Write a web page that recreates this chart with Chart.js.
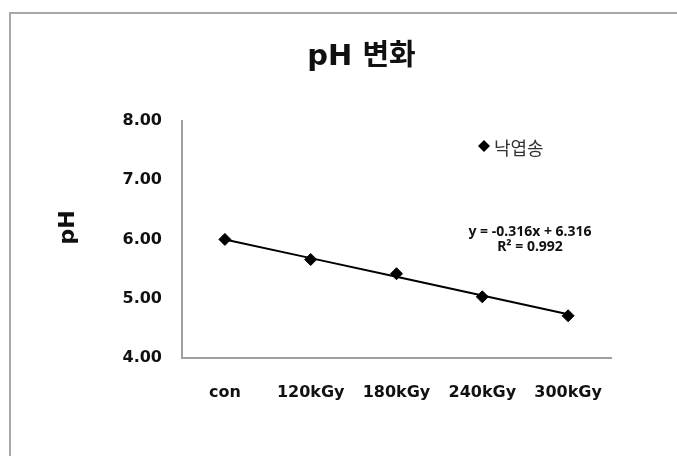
<!DOCTYPE html>
<html lang="ko">
<head>
<meta charset="utf-8">
<title>pH 변화</title>
<script src="https://cdn.jsdelivr.net/npm/chart.js@4.4.1/dist/chart.umd.min.js"></script>
<style>
  html, body { margin:0; padding:0; background:#fff; overflow:hidden; }
  #frame {
    position:absolute; left:9px; top:12px;
    width:704px; height:470px;
    border:2px solid #a8a8a8;
    background:#fff;
  }
  #chart { display:block; }
</style>
</head>
<body>
<div id="frame"><canvas id="chart" width="704" height="470"></canvas></div>
<script>
/* ---------- data ---------- */
const categories = ['con', '120kGy', '180kGy', '240kGy', '300kGy'];
const phValues = [6.00, 5.66, 5.42, 5.03, 4.71];
const trendValues = [6.000, 5.684, 5.368, 5.052, 4.736]; // y = -0.316x + 6.316
const seriesName = '낙엽송';
const chartTitle = 'pH 변화';
const yTitle = 'pH';
const trendLabel = ['y = -0.316x + 6.316', 'R² = 0.992'];
const yTicks = [4, 5, 6, 7, 8];

const TICK_FONT = { family: '"DejaVu Sans", "Noto Sans CJK KR", sans-serif', size: 16, weight: 'bold' };

/* ---------- titles, inline legend + trendline label ---------- */
const annotate = {
  id: 'annotate',
  afterDatasetsDraw(chart){
    const { ctx, chartArea: a } = chart;
    ctx.save();
    // chart title (sits left of the plot centre, as in the source sheet)
    ctx.fillStyle = '#111';
    ctx.font = 'bold 29px "DejaVu Sans", "Noto Sans CJK KR", sans-serif';
    ctx.textAlign = 'center'; ctx.textBaseline = 'middle';
    ctx.fillText(chartTitle, (a.left + a.right) / 2 - 35, a.top - 64);
    // y axis title, rotated
    ctx.save();
    ctx.translate(a.left - 114, (a.top + a.bottom) / 2 - 12);
    ctx.rotate(-Math.PI / 2);
    ctx.font = 'bold 22px "DejaVu Sans", sans-serif';
    ctx.fillText(yTitle, 0, 0);
    ctx.restore();
    // legend entry
    const lx = a.left + 302, ly = a.top + 25;
    ctx.fillStyle = '#000';
    ctx.beginPath();
    ctx.moveTo(lx, ly - 6); ctx.lineTo(lx + 6, ly); ctx.lineTo(lx, ly + 6); ctx.lineTo(lx - 6, ly);
    ctx.closePath(); ctx.fill();
    ctx.fillStyle = '#333';
    ctx.font = '18px "Noto Sans CJK KR", sans-serif';
    ctx.textAlign = 'left';
    ctx.fillText(seriesName, lx + 10, ly + 2);
    // trendline equation
    ctx.fillStyle = '#111';
    ctx.font = 'bold 14px "Noto Sans", "DejaVu Sans", sans-serif';
    ctx.textAlign = 'center';
    ctx.fillText(trendLabel[0], a.left + 348, a.top + 111);
    ctx.fillText(trendLabel[1], a.left + 348, a.top + 126);
    ctx.restore();
  }
};

new Chart(document.getElementById('chart').getContext('2d'), {
  type: 'line',
  data: {
    labels: categories,
    datasets: [
      {
        label: seriesName,
        data: phValues,
        showLine: false,
        pointStyle: 'rectRot',
        pointRadius: 6,
        pointBackgroundColor: '#000',
        pointBorderColor: '#000',
        order: 0
      },
      {
        label: 'trend',
        data: trendValues,
        borderColor: '#000',
        borderWidth: 2,
        pointRadius: 0,
        tension: 0,
        order: 1
      }
    ]
  },
  options: {
    responsive: false,
    animation: false,
    layout: { padding: { left: 43, right: 104, top: 107, bottom: 57 } },
    plugins: {
      legend: { display: false },
      tooltip: { enabled: false },
      title: { display: false }
    },
    scales: {
      x: {
        offset: true,
        grid: { display: false, drawTicks: false },
        border: { display: true, color: '#a0a0a0', width: 2 },
        ticks: { color: '#111', font: TICK_FONT, padding: 25, maxRotation: 0 }
      },
      y: {
        min: 4, max: 8,
        afterBuildTicks(scale){ scale.ticks = yTicks.map(v => ({ value: v })); },
        afterFit(scale){ scale.width = 128; },
        grid: { display: false, drawTicks: false },
        border: { display: true, color: '#a0a0a0', width: 2 },
        ticks: { color: '#111', font: TICK_FONT, padding: 20, callback: v => Number(v).toFixed(2) }
      }
    }
  },
  plugins: [annotate]
});
</script>
</body>
</html>
